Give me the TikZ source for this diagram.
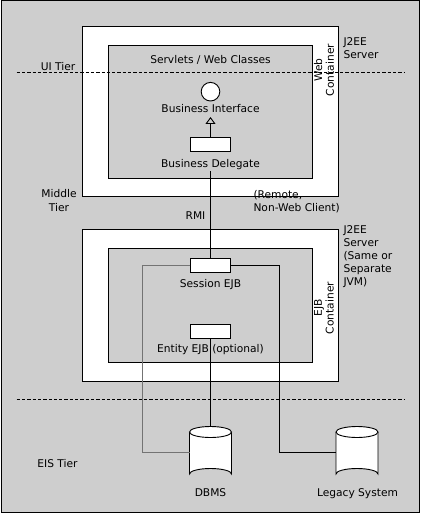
\documentclass[tikz,border=0pt]{standalone}
\usepackage{fontspec}
\setmainfont{DejaVu Sans}
\usetikzlibrary{arrows.meta}
\definecolor{bggray}{RGB}{206,206,206}
\definecolor{linegray}{RGB}{115,115,115}
\tikzset{
  lbl/.style={font=\fontsize{10.7}{13}\selectfont, inner sep=0pt, anchor=base},
  lblml/.style={font=\fontsize{10.7}{13}\selectfont, inner sep=0pt, align=left},
  whitebox/.style={draw=black, fill=white, line width=0.9bp},
  graybox/.style={draw=black, fill=bggray, line width=0.9bp},
  compbox/.style={draw=black, fill=white, line width=0.9bp, minimum width=39.3bp, minimum height=14bp, inner sep=0pt},
  tierline/.style={dashed, dash pattern=on 3.3bp off 2bp, line width=0.8bp},
  conn/.style={line width=0.9bp},
  opentri/.style={-{Triangle[open, width=10bp, length=7bp, line width=0.9bp]}},
}
\begin{document}
\begin{tikzpicture}[x=1bp,y=-1bp]
\useasboundingbox (0,0) rectangle (421,514);
% background
\draw[fill=bggray, line width=1bp] (1,1) rectangle (419.5,512.5);
% web server
\draw[whitebox] (82.7,26) rectangle (338,196);
\draw[graybox] (108.7,45.7) rectangle (312.7,178.3);
% ejb server
\draw[whitebox] (82.7,229.3) rectangle (338.3,381.7);
\draw[graybox] (108.7,248.3) rectangle (312.7,362.7);
% tier lines
\coordinate (uiL) at (16.7,72.7);
\coordinate (uiR) at (405,72.7);
\coordinate (eisL) at (16.7,399);
\coordinate (eisR) at (405,399);
\draw[tierline] (uiL) -- (uiR);
\draw[tierline] (eisL) -- (eisR);
% web components
\node[draw=black, fill=white, circle, minimum size=18.6bp, inner sep=0pt, line width=0.9bp] (bi) at (210.5,91.7) {};
\node[lbl] (bilbl) at (210.5,112.3) {Business Interface};
\coordinate (bitip) at (210.5,117);
\node[compbox] (bd) at (210.5,144.8) {};
\node[lbl] (bdlbl) at (210.5,168) {Business Delegate};
\draw[conn, opentri] (bd.north) -- (bitip);
\node[lbl] (servlets) at (210.5,64) {Servlets / Web Classes};
% ejb components
\node[compbox] (sess) at (210.5,265.8) {};
\node[lbl] (sesslbl) at (210.5,287.3) {Session EJB};
\node[compbox] (ent) at (210.5,331.6) {};
\node[lbl] (entlbl) at (210.5,352.7) {Entity EJB (optional)};
% cylinders
\newcommand{\cyl}[3]{%
  \fill[white] (#1-21,#2) -- (#1-21,#3) arc[start angle=180,end angle=360,x radius=21,y radius=5.5] -- (#1+21,#2) -- cycle;
  \draw[line width=0.9bp] (#1-21,#2) -- (#1-21,#3) arc[start angle=180,end angle=360,x radius=21,y radius=5.5] -- (#1+21,#2);
  \draw[line width=0.9bp, fill=white] (#1,#2) ellipse[x radius=21, y radius=5.5];
}
\cyl{210.5}{432}{474}
\cyl{357}{432}{474}
\coordinate (dbmstop) at (210.5,426.5);
\coordinate (dbmsleft) at (189.5,452.7);
\coordinate (legleft) at (336,452.7);
\node[lbl] (dbms) at (210.5,496) {DBMS};
\node[lbl] (legacy) at (357.5,496) {Legacy System};
% connectors
\draw[conn] ([yshift=-1bp]bdlbl.south) -- (sess.north);
\draw[conn] (ent.south) -- (dbmstop);
\draw[conn, draw=linegray] (sess.west) -| (142,452.7) -- (dbmsleft);
\draw[conn] (sess.east) -| (279.3,452.7) -- (legleft);
% side labels
\node[lbl] (ui) at (58,70.7) {UI Tier};
\node[lblml, align=center, anchor=base] (mid) at (59,211.7) {Middle\\[1.3bp]Tier};
\node[lbl] (rmi) at (195.5,219.3) {RMI};
\node[lblml, anchor=base west] (remote) at (253.3,211.7) {(Remote,\\[0.5bp]Non-Web Client)};
\node[lbl] (eis) at (57.5,467.3) {EIS Tier};
\node[lblml, align=center, rotate=90, font=\fontsize{10.7}{11.7}\selectfont] (webc) at (324,70) {Web\\Container};
\node[lblml, align=center, rotate=90, font=\fontsize{10.7}{11.7}\selectfont] (ejbc) at (324,308) {EJB\\Container};
\node[lblml, anchor=base west, font=\fontsize{10.7}{12.4}\selectfont] (j2ee1) at (343.3,58.3) {J2EE\\Server};
\node[lblml, anchor=base west, font=\fontsize{10.7}{13}\selectfont] (j2ee2) at (343.3,285) {J2EE\\Server\\(Same or\\Separate\\JVM)};
\end{tikzpicture}
\end{document}
